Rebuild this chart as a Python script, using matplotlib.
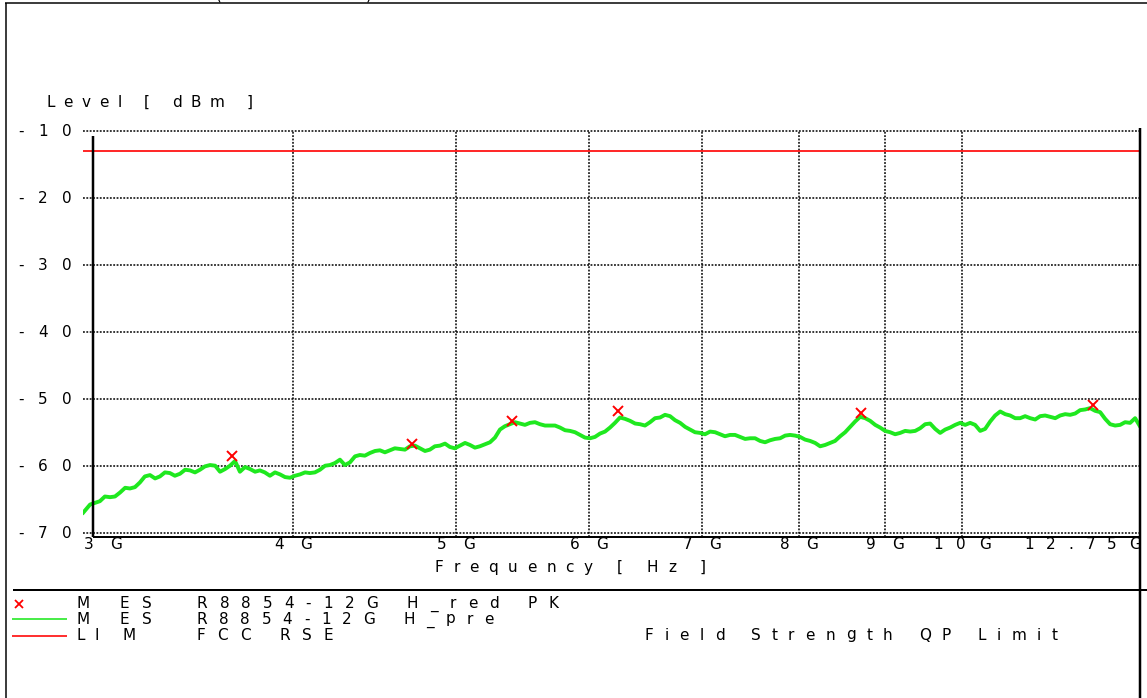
import matplotlib
matplotlib.use("Agg")
import matplotlib.pyplot as plt
from matplotlib.lines import Line2D
from matplotlib.font_manager import FontProperties

W, H = 1147, 698

# preview scan, frequency in GHz and level in dBm
freq_ghz = [3.000, 3.028, 3.069, 3.090, 3.112, 3.133, 3.155, 3.177, 3.198, 3.220,
            3.242, 3.264, 3.287, 3.310, 3.332, 3.355, 3.378, 3.401, 3.425, 3.449,
            3.472, 3.496, 3.520, 3.544, 3.569, 3.594, 3.618, 3.643, 3.668, 3.693,
            3.718, 3.744, 3.770, 3.796, 3.821, 3.847, 3.874, 3.901, 3.928, 3.955,
            3.982, 4.009, 4.037, 4.065, 4.092, 4.120, 4.149, 4.178, 4.206, 4.235,
            4.264, 4.293, 4.323, 4.353, 4.382, 4.412, 4.443, 4.474, 4.504, 4.535,
            4.566, 4.597, 4.629, 4.661, 4.693, 4.725, 4.758, 4.791, 4.823, 4.856,
            4.890, 4.924, 4.957, 4.991, 5.026, 5.061, 5.095, 5.130, 5.165, 5.200,
            5.237, 5.273, 5.309, 5.345, 5.382, 5.419, 5.457, 5.494, 5.532, 5.570,
            5.608, 5.647, 5.686, 5.725, 5.764, 5.804, 5.844, 5.884, 5.924, 5.965,
            6.006, 6.047, 6.089, 6.131, 6.173, 6.215, 6.258, 6.301, 6.345, 6.389,
            6.432, 6.476, 6.521, 6.566, 6.611, 6.656, 6.702, 6.748, 6.795, 6.842,
            6.888, 6.935, 6.983, 7.031, 7.080, 7.129, 7.177, 7.226, 7.276, 7.326,
            7.377, 7.428, 7.479, 7.530, 7.582, 7.634, 7.686, 7.739, 7.793, 7.847,
            7.900, 7.954, 8.009, 8.064, 8.120, 8.176, 8.232, 8.289, 8.345, 8.402,
            8.461, 8.519, 8.577, 8.636, 8.696, 8.756, 8.816, 8.877, 8.937, 8.998,
            9.061, 9.123, 9.186, 9.249, 9.313, 9.377, 9.441, 9.506, 9.571, 9.637,
            9.703, 9.770, 9.837, 9.905, 9.973, 10.042, 10.110, 10.179, 10.250, 10.320,
            10.391, 10.462, 10.535, 10.607, 10.680, 10.753, 10.827, 10.901, 10.977, 11.052,
            11.128, 11.204, 11.282, 11.360, 11.437, 11.516, 11.595, 11.675, 11.754, 11.835,
            11.916, 11.998, 12.081, 12.164, 12.247, 12.331, 12.416, 12.501, 12.587, 12.674,
            12.750]
level_dbm = [-67.0, -65.8, -65.3, -64.6, -64.7, -64.6, -64.0, -63.3, -63.4, -63.2,
             -62.5, -61.6, -61.4, -61.9, -61.6, -61.0, -61.1, -61.5, -61.2, -60.6,
             -60.7, -61.0, -60.6, -60.1, -59.9, -60.0, -60.9, -60.5, -60.0, -59.3,
             -60.9, -60.2, -60.5, -60.9, -60.7, -61.0, -61.5, -61.0, -61.3, -61.7,
             -61.8, -61.5, -61.3, -61.0, -61.1, -61.0, -60.6, -60.0, -59.9, -59.6,
             -59.1, -59.9, -59.5, -58.6, -58.4, -58.5, -58.1, -57.8, -57.7, -58.0,
             -57.7, -57.4, -57.5, -57.6, -57.1, -57.0, -57.4, -57.8, -57.6, -57.1,
             -57.0, -56.7, -57.2, -57.4, -57.0, -56.6, -56.9, -57.3, -57.1, -56.8,
             -56.5, -55.8, -54.6, -54.1, -53.8, -53.5, -53.7, -53.9, -53.6, -53.5,
             -53.8, -54.0, -54.0, -54.0, -54.3, -54.7, -54.8, -55.0, -55.4, -55.8,
             -55.9, -55.7, -55.2, -54.9, -54.3, -53.6, -52.8, -53.0, -53.3, -53.7,
             -53.8, -54.0, -53.5, -52.9, -52.8, -52.4, -52.6, -53.2, -53.6, -54.2,
             -54.6, -55.0, -55.1, -55.3, -54.9, -55.0, -55.3, -55.6, -55.4, -55.4,
             -55.7, -56.0, -55.9, -55.9, -56.3, -56.5, -56.2, -56.0, -55.9, -55.5,
             -55.4, -55.5, -55.7, -56.1, -56.3, -56.6, -57.1, -56.9, -56.6, -56.3,
             -55.6, -55.0, -54.2, -53.4, -52.7, -52.9, -53.3, -53.9, -54.3, -54.8,
             -55.0, -55.3, -55.1, -54.8, -54.9, -54.8, -54.4, -53.8, -53.7, -54.5,
             -55.1, -54.6, -54.3, -53.9, -53.6, -53.9, -53.6, -53.9, -54.8, -54.5,
             -53.4, -52.5, -51.9, -52.3, -52.5, -52.9, -52.9, -52.6, -52.9, -53.1,
             -52.6, -52.5, -52.7, -52.9, -52.5, -52.3, -52.4, -52.2, -51.7, -51.6,
             -51.4, -51.8, -52.0, -53.0, -53.8, -54.0, -53.9, -53.5, -53.6, -52.9,
             -54.0]

# peak detector final readings
peak_freq_ghz = [3.679, 4.705, 5.394, 6.238, 8.700, 11.96]
peak_dbm = [-58.6, -56.8, -53.3, -51.9, -52.2, -51.0]

# FCC RSE limit
limit_freq_ghz = [3.0, 12.75]
limit_dbm = [-13.0, -13.0]

level_ticks = [-10, -20, -30, -40, -50, -60, -70]
grid_freqs = [4, 5, 6, 7, 8, 9, 10]
freq_ticks = [3, 4, 5, 6, 7, 8, 9, 10, 12.75]
freq_tick_labels = ["3G", "4G", "5G", "6G", "7G", "8G", "9G", "10G", "12.75G"]

legend_kind = ["M ES", "M ES", "LI M"]
legend_name = ["R8854-12G H_red PK", "R8854-12G H_pre", "FCC RSE"]
limit_desc = "Field Strength QP Limit"

GREEN = "#1FE81F"
RED = "#FF0000"

fig = plt.figure(figsize=(W / 100, H / 100), dpi=100)
renderer = fig.canvas.get_renderer()
font = FontProperties(family="DejaVu Sans", size=11)


def fx(x):
    return x / W


def fy(y):
    return 1 - y / H


def char_width(ch, prop):
    if ch == " ":
        return prop.get_size_in_points() * 100 / 72 * 0.32
    w, _, _ = renderer.get_text_width_height_descent(ch, prop, ismath=False)
    return w


def spaced_text(s, x0, x1, y, color="black", prop=font):
    # spread the letters of s so the text runs from x0 to x1 (pixels, baseline y)
    widths = [char_width(c, prop) for c in s]
    gap = (x1 - x0 - sum(widths)) / max(len(s) - 1, 1)
    x = x0
    for c, w in zip(s, widths):
        if c != " ":
            fig.text(fx(x), fy(y), c, fontproperties=prop, color=color,
                     ha="left", va="baseline")
        x += w + gap


def hline(x0, x1, y, lw=1.5, color="black"):
    fig.add_artist(Line2D([fx(x0), fx(x1)], [fy(y), fy(y)], transform=fig.transFigure,
                          color=color, lw=lw * 0.72, solid_capstyle="butt"))


def vline(x, y0, y1, lw=1.5, color="black"):
    fig.add_artist(Line2D([fx(x), fx(x)], [fy(y0), fy(y1)], transform=fig.transFigure,
                          color=color, lw=lw * 0.72, solid_capstyle="butt"))


ax = fig.add_axes([fx(83.3), fy(537), (1139.5 - 83.3) / W, (537 - 131) / H])
ax.set_xscale("log")
ax.set_xlim(3, 12.75)
ax.set_ylim(-70.65, -10)
ax.set_xticks(grid_freqs)
ax.set_xticks([], minor=True)
ax.set_yticks(level_ticks)
ax.tick_params(which="both", length=0, labelbottom=False, labelleft=False)
ax.grid(True, color="black", linestyle=(0, (1.2, 1.0)), linewidth=1.1)
for gl in ax.get_xgridlines() + ax.get_ygridlines():
    gl.set_clip_on(False)
for sp in ax.spines.values():
    sp.set_visible(False)

ax.plot(limit_freq_ghz, limit_dbm, color=RED, lw=1.2, zorder=3)
ax.plot(freq_ghz, level_dbm, color=GREEN, lw=2.8, zorder=4)
ax.plot(peak_freq_ghz, peak_dbm, "x", color=RED, ms=7, mew=1.4, zorder=5)

# frame and offset axis lines
hline(5, W, 3, lw=1.5)
vline(5.5, 3, H, lw=1.5)
vline(93, 136, 537, lw=2.5)
hline(93, 1139.5, 537, lw=2)
vline(1139.5, 128, H, lw=2.5)
hline(13, W, 590, lw=2)

# y tick labels
for lev in level_ticks:
    y = H - ax.transData.transform((3, lev))[1]
    spaced_text(f"{lev}", 18, 72, y + 5)

# x tick labels
for i, (f, lab) in enumerate(zip(freq_ticks, freq_tick_labels)):
    x = ax.transData.transform((f, -70))[0]
    width = 19.6 * len(lab) - 1
    if i == 0:
        x0 = 84
    elif i == len(freq_ticks) - 1:
        x0 = 1141 - width
    else:
        x0 = x - width / 2
    spaced_text(lab, x0, x0 + width, 549)

spaced_text("Level [ dBm ]", 46, 253, 107)
spaced_text("Frequency [ Hz ]", 435, 706, 572)
spaced_text("(", 216, 222, 0)
spaced_text(")", 366, 372, 0)

# legend block
row_y = [607.5, 623.5, 639.5]
fig.add_artist(Line2D([fx(18.5)], [fy(row_y[0] - 4)], transform=fig.transFigure,
                      marker="x", color=RED, ms=6, mew=1.3, linestyle="none"))
hline(12, 67, row_y[1] - 5, lw=1.6, color=GREEN)
hline(12, 67, row_y[2] - 4, lw=1.6, color=RED)
kind_ends = [152, 152, 136]
name_ends = [559, 494, 333]
for y, kind, name, k1, n1 in zip(row_y, legend_kind, legend_name, kind_ends, name_ends):
    spaced_text(kind, 76, k1, y)
    spaced_text(name, 197, n1, y)
spaced_text(limit_desc, 645, 1058, row_y[2])

fig.savefig("out.png", dpi=100)
